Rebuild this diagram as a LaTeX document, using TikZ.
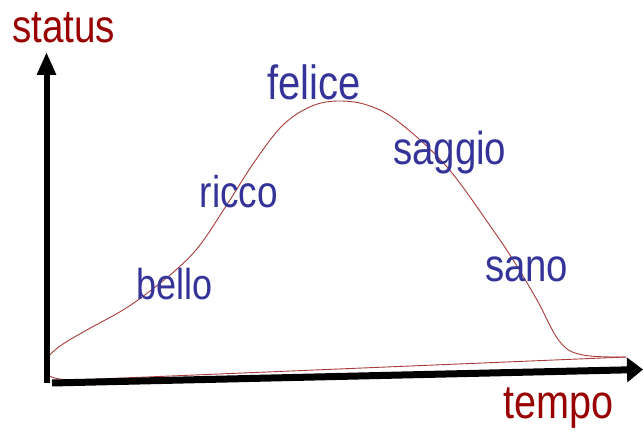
\documentclass[tikz,border=0pt]{standalone}
\usepackage{fontspec}
\setmainfont{Liberation Sans}
\usetikzlibrary{arrows.meta}
\definecolor{axred}{HTML}{990000}
\definecolor{wordblue}{HTML}{333399}
\definecolor{curvered}{HTML}{A83A3A}
\newcommand{\stretchtxt}[2]{\fontsize{#1}{#1}\selectfont\scalebox{1}[1.2]{#2}}
\tikzset{
  axislabel/.style={anchor=base west, inner sep=0pt, text=axred},
  word/.style={anchor=base west, inner sep=0pt, text=wordblue},
  curve/.style={draw=curvered, line width=0.9pt},
  axisline/.style={draw=black, line cap=butt}
}
\begin{document}
\begin{tikzpicture}[x=1pt,y=-1pt]
\useasboundingbox (0,0) rectangle (643,438);
% named coordinates
\coordinate (vbot) at (46.5,383);
\coordinate (vtop) at (46.5,52);
\coordinate (hleft) at (52,383);
\coordinate (hright) at (643,369.5);
% curve
\draw[curve] plot[smooth, tension=0.6] coordinates {
  (48,357) (60,346) (85,331) (123,310) (150,291) (177,269) (200,245)
  (228,203) (255,161) (283,125) (312,106) (340,101) (370,106) (400,123)
  (447,167) (493,230) (515,263) (537,300) (560,342) (583,355) (626,357)};
\draw[curve] (626,357) -- (75,380) .. controls (60,380) and (52,378) .. (48,375);
% axes
\draw[axisline, line width=6pt, -{Triangle[length=23pt,width=18pt]}] (vbot) -- (vtop);
\draw[axisline, line width=7pt, -{Triangle[length=16pt,width=24pt]}] (hleft) -- (hright);
% labels
\node[axislabel] (status) at (12,43) {\stretchtxt{38.6}{status}};
\node[axislabel] (tempo) at (503,418) {\stretchtxt{39.6}{tempo}};
\node[word] (felice) at (267,100) {\stretchtxt{40}{felice}};
\node[word] (ricco) at (199.5,208) {\stretchtxt{37}{ricco}};
\node[word] (bello) at (136,300) {\stretchtxt{36}{bello}};
\node[word] (saggio) at (393,165) {\stretchtxt{38.4}{saggio}};
\node[word] (sano) at (485,282) {\stretchtxt{38.3}{sano}};
\end{tikzpicture}
\end{document}
